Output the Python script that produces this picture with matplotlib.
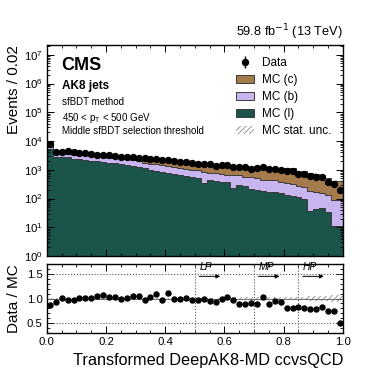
import matplotlib
matplotlib.use("Agg")
import matplotlib.pyplot as plt
import numpy as np
from matplotlib.patches import Patch
from matplotlib.ticker import AutoMinorLocator, LogLocator, NullFormatter

plt.rcParams['font.family'] = ['Liberation Sans', 'DejaVu Sans']
plt.rcParams['hatch.linewidth'] = 0.6

edges = np.linspace(0, 1, 51)

data = [7900, 4200, 4300, 4500, 4150, 3900, 3800, 3450, 3310, 3310,
        3160, 3090, 2880, 2820, 2750, 2630, 2510, 2290, 2290, 2140,
        2140, 1950, 1905, 1860, 1660, 1620, 1620, 1550, 1410, 1480,
        1480, 1260, 1230, 1230, 1100, 1150, 1290, 1050, 1070, 980,
        910, 910, 725, 710, 590, 575, 550, 380, 316, 200]

mc_l = [5250, 2750, 2880, 2820, 2400, 2340, 2140, 2000, 1950, 1820,
        1740, 1660, 1550, 1445, 1380, 1230, 1150, 1020, 890, 850,
        795, 725, 660, 590, 550, 500, 340, 457, 400, 380,
        363, 229, 288, 275, 209, 200, 182, 174, 166, 151,
        132, 126, 115, 100, 38, 42, 46, 35, 11, 11]

mc_b = [1830, 880, 840, 810, 910, 900, 1020, 950, 930, 1000,
        890, 910, 960, 895, 860, 770, 590, 600, 660, 595,
        555, 565, 490, 480, 470, 455, 530, 319, 360, 328,
        313, 417, 358, 300, 341, 337, 275, 273, 271, 212,
        207, 205, 154, 151, 144, 132, 105, 97, 78, 78]

mc_c = [2000, 886, 537, 1058, 1013, 621, 602, 466, 272, 273,
        438, 430, 399, 452, 379, 481, 848, 603, 551, 784,
        561, 680, 774, 772, 709, 733, 766, 873, 756, 787,
        761, 640, 736, 807, 659, 770, 795, 746, 701, 702,
        784, 792, 604, 626, 574, 563, 512, 375, 332, 303]

# relative MC stat. uncertainty per bin
mc_stat_rel = [0.01] * 10 + [0.012] * 10 + [0.015] * 10 + [0.025] * 10 + \
              [0.035, 0.035, 0.04, 0.04, 0.045, 0.05, 0.05, 0.06, 0.07, 0.08]

regions = ["LP", "MP", "HP"]
region_cuts = [0.5, 0.7, 0.85]

col_c = '#a57b4c'
col_b = '#c8b5ef'
col_l = '#1b544a'

data = np.array(data, float)
l = np.array(mc_l, float)
b = np.array(mc_b, float)
c = np.array(mc_c, float)
total = l + b + c
unc = total * np.array(mc_stat_rel)
centers = 0.5 * (edges[1:] + edges[:-1])

fig = plt.figure(figsize=(3.81, 3.81), dpi=100)
ax = fig.add_axes([0.123, 0.328, 0.777, 0.554])
rax = fig.add_axes([0.123, 0.126, 0.777, 0.181], sharex=ax)

# stacked MC
ax.stairs(l, edges, baseline=1e-3, fill=True, color=col_l)
ax.stairs(l + b, edges, baseline=l, fill=True, color=col_b)
ax.stairs(total, edges, baseline=l + b, fill=True, color=col_c)
for top in [l, l + b, total]:
    ax.stairs(top, edges, baseline=None, color='#3a3a3a', lw=0.7)
ax.stairs(total + unc, edges, baseline=total - unc, fill=True,
          facecolor='none', edgecolor='#888888', hatch='//////', lw=0)

eb = ax.errorbar(centers, data, yerr=np.sqrt(data), fmt='o', color='k',
                 ms=4.3, elinewidth=1, capsize=0)

ax.set_yscale('log')
ax.set_ylim(1, 2.2e7)
ax.set_xlim(0, 1)
ax.yaxis.set_major_locator(LogLocator(base=10, numticks=20))
ax.yaxis.set_minor_locator(LogLocator(base=10, subs=np.arange(2, 10), numticks=100))
ax.yaxis.set_minor_formatter(NullFormatter())
ax.set_ylabel("Events / 0.02", fontsize=11, loc='top')
plt.setp(ax.get_xticklabels(), visible=False)

ax.text(0.05, 0.945, "CMS", transform=ax.transAxes, fontsize=13,
        fontweight='bold', va='top')
ax.text(0.05, 0.835, "AK8 jets", transform=ax.transAxes, fontsize=8.5,
        fontweight='bold', va='top')
ax.text(0.05, 0.755, "sfBDT method", transform=ax.transAxes, fontsize=7, va='top')
ax.text(0.05, 0.685, r"450 < p$_\mathregular{T}$ < 500 GeV", transform=ax.transAxes,
        fontsize=7, va='top')
ax.text(0.05, 0.615, "Middle sfBDT selection threshold", transform=ax.transAxes,
        fontsize=7, va='top')
ax.text(1.0, 1.015, r"59.8 fb$^{-1}$ (13 TeV)", transform=ax.transAxes,
        fontsize=9.2, ha='right', va='bottom')

handles = [eb,
           Patch(facecolor=col_c, edgecolor='#3a3a3a', lw=0.7),
           Patch(facecolor=col_b, edgecolor='#3a3a3a', lw=0.7),
           Patch(facecolor=col_l, edgecolor='#3a3a3a', lw=0.7),
           Patch(facecolor='none', edgecolor='#888888', hatch='//////', lw=0)]
labels = ["Data", "MC (c)", "MC (b)", "MC (l)", "MC stat. unc."]
ax.legend(handles, labels, loc='upper right', bbox_to_anchor=(0.985, 0.975),
          frameon=False, fontsize=8.5, handlelength=1.5, handleheight=0.75,
          labelspacing=0.42, handletextpad=0.7, borderaxespad=0.2)

# ratio panel
ratio = data / total
rax.stairs(1 + np.array(mc_stat_rel), edges, baseline=1 - np.array(mc_stat_rel),
           fill=True, facecolor='none', edgecolor='#888888', hatch='//////', lw=0)
for yv in [0.5, 1.0, 1.5]:
    rax.axhline(yv, color='#555555', ls=':', lw=0.8)
rax.axhline(1.0, color='#666666', lw=0.6)
rax.errorbar(centers, ratio, yerr=np.sqrt(data) / total, fmt='o', color='k',
             ms=3.6, elinewidth=0.8, capsize=0)
for name, cut in zip(regions, region_cuts):
    rax.axvline(cut, color='#555555', ls=':', lw=0.8)
    rax.text(cut + 0.015, 1.54, name, fontsize=7.5, style='italic', va='bottom')
    rax.annotate("", xy=(cut + 0.095, 1.45), xytext=(cut + 0.005, 1.45),
                 arrowprops=dict(arrowstyle='-|>', color='k', lw=0.7,
                                 mutation_scale=6))
rax.set_ylim(0.3, 1.7)
rax.set_yticks([0.5, 1.0, 1.5])
rax.set_xticks([0, 0.2, 0.4, 0.6, 0.8, 1.0])
rax.set_ylabel("Data / MC", fontsize=11)
rax.set_xlabel("Transformed DeepAK8-MD ccvsQCD", fontsize=11.7, loc='right')

for a in (ax, rax):
    a.tick_params(which='both', direction='in', top=True, right=True, labelsize=8.2)
    a.tick_params(which='major', length=5, width=0.7, pad=3)
    a.tick_params(which='minor', length=2.5, width=0.6)
    a.xaxis.set_minor_locator(AutoMinorLocator(4))
    for s in a.spines.values():
        s.set_linewidth(1.0)
rax.yaxis.set_minor_locator(AutoMinorLocator(5))
ax.yaxis.set_label_coords(-0.088, 1.0)
rax.yaxis.set_label_coords(-0.088, 0.5)

fig.savefig("out.png", dpi=100)
